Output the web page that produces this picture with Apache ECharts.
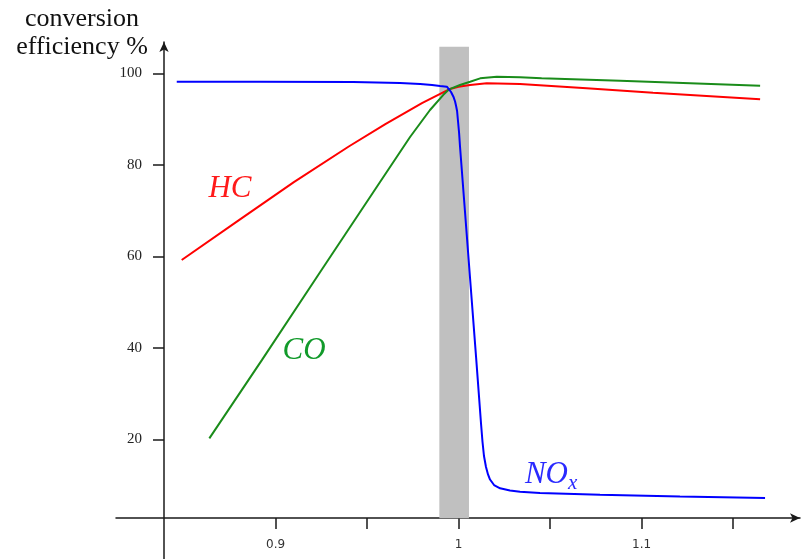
<!DOCTYPE html>
<html>
<head>
<meta charset="utf-8">
<script src="https://cdn.jsdelivr.net/npm/echarts@6/dist/echarts.min.js"></script>
<style>
html,body{margin:0;padding:0;background:#fff;}
#chart{width:803px;height:559px;}
</style>
</head>
<body>
<div id="chart"></div>
<script>
// ---- data (lambda, conversion efficiency %) ----
const lambdaTicks = [0.9, 0.95, 1, 1.05, 1.1, 1.15];
const lambdaLabels = [0.9, 1, 1.1];
const effTicks = [20, 40, 60, 80, 100];

const hcData = [
  [0.8487, 59.2], [0.88, 67.9], [0.91, 76.2], [0.94, 84.0], [0.96, 88.9],
  [0.98, 93.5], [0.9948, 96.5], [1.0, 97.05], [1.0063, 97.44], [1.0154, 97.8],
  [1.0336, 97.66], [1.07, 96.72], [1.1063, 95.76], [1.1648, 94.32]
];
const coData = [
  [0.8638, 20.2], [0.8925, 37.3], [0.9243, 56.5], [0.9571, 76.24], [0.9735, 86.08],
  [0.9844, 91.98], [0.9917, 95.3], [0.9948, 96.5], [1.0008, 97.44], [1.0063, 98.16],
  [1.0118, 98.9], [1.0209, 99.26], [1.0336, 99.13], [1.0454, 98.9], [1.0883, 98.38],
  [1.1648, 97.29]
];
const noxData = [
  [0.8460, 98.16], [0.8915, 98.14], [0.9424, 98.10], [0.9680, 97.88], [0.9790, 97.66],
  [0.9855, 97.44], [0.9899, 97.22], [0.9936, 97.07], [0.9948, 96.50], [0.9959, 95.91],
  [0.9972, 94.89], [0.9981, 93.84], [0.9986, 92.96], [0.9992, 91.76], [0.9997, 89.57],
  [1.0003, 86.95], [1.0008, 84.0], [1.0030, 72.46], [1.0063, 55.15], [1.0096, 37.84],
  [1.0123, 23.34], [1.0131, 19.41], [1.0139, 16.35], [1.0150, 13.95], [1.0161, 12.31],
  [1.0172, 11.21], [1.0194, 10.01], [1.0227, 9.29], [1.0281, 8.81], [1.0336, 8.55],
  [1.0445, 8.26], [1.0773, 7.89], [1.1210, 7.50], [1.1675, 7.17]
];
// shaded lambda window
const bandLambda = [0.9895, 1.0057];
const bandEff = [2.73, 105.8];
// curve annotations (lambda, efficiency, text)
const annotations = [
  [0.8751, 74.3, 'HC'],
  [0.9156, 38.9, 'CO'],
  [1.0506, 11.8, 'NOx']
];

const chart = echarts.init(document.getElementById('chart'), null, {renderer: 'canvas'});
const axisColor = '#1a1a1a';
const annColors = {HC: '#ff1a1a', CO: '#119a2a', NOx: '#2a2aff'};

chart.setOption({
  animation: false,
  backgroundColor: '#fff',
  grid: {left: 116, right: 3, top: 42, bottom: 0, containLabel: false},
  graphic: [{
    type: 'text', x: 82, y: 5,
    style: {
      text: 'conversion\nefficiency %',
      font: '26px "Liberation Serif"',
      lineHeight: 28,
      align: 'center', verticalAlign: 'top',
      fill: '#111'
    }
  }],
  xAxis: {
    type: 'value', min: 0.8128, max: 1.1866, offset: -41,
    axisLine: {onZero: false, symbol: ['none', 'arrow'], symbolSize: [7, 10],
      lineStyle: {color: axisColor, width: 1.5}},
    axisTick: {show: true, customValues: lambdaTicks, length: 11, inside: false,
      lineStyle: {color: axisColor, width: 1.5}},
    axisLabel: {customValues: lambdaLabels, margin: 21, fontSize: 12,
      fontFamily: 'DejaVu Sans', color: '#333', formatter: v => String(v)},
    splitLine: {show: false}
  },
  yAxis: {
    type: 'value', min: -6.16, max: 106.84, offset: -48,
    axisLine: {show: true, onZero: false, symbol: ['none', 'arrow'], symbolSize: [7, 10],
      lineStyle: {color: axisColor, width: 1.5}},
    axisTick: {show: true, customValues: effTicks, length: 11, inside: false,
      lineStyle: {color: axisColor, width: 1.5}},
    axisLabel: {customValues: effTicks, margin: 22, fontSize: 15,
      fontFamily: 'Liberation Serif', color: '#222'},
    splitLine: {show: false}
  },
  series: [
    {
      type: 'line', name: 'band', data: [], z: 1, silent: true,
      markArea: {
        silent: true,
        itemStyle: {color: '#c0c0c0'},
        data: [[{xAxis: bandLambda[0], yAxis: bandEff[0]}, {xAxis: bandLambda[1], yAxis: bandEff[1]}]]
      }
    },
    {type: 'line', name: 'HC', data: hcData, z: 3, symbol: 'none',
      lineStyle: {color: '#ff0000', width: 2}},
    {type: 'line', name: 'CO', data: coData, z: 3, symbol: 'none',
      lineStyle: {color: '#1a8c1a', width: 2}},
    {type: 'line', name: 'NOx', data: noxData, z: 4, symbol: 'none',
      lineStyle: {color: '#0000ff', width: 2}},
    {
      type: 'scatter', name: 'labels', z: 5, silent: true,
      symbolSize: 1, itemStyle: {color: 'rgba(0,0,0,0)'},
      data: annotations.map(a => ({
        value: [a[0], a[1]],
        label: {
          show: true, position: 'inside', opacity: 1,
          formatter: a[2] === 'NOx' ? '{m|NO}{s|x}' : '{m|' + a[2] + '}',
          rich: {
            m: {fontFamily: 'Liberation Serif', fontStyle: 'italic', fontSize: 31,
                color: annColors[a[2]], verticalAlign: 'bottom', padding: [0, 0, 4, 0]},
            s: {fontFamily: 'Liberation Serif', fontStyle: 'italic', fontSize: 21,
                color: annColors[a[2]], verticalAlign: 'bottom'}
          }
        }
      }))
    }
  ]
});
</script>
</body>
</html>
